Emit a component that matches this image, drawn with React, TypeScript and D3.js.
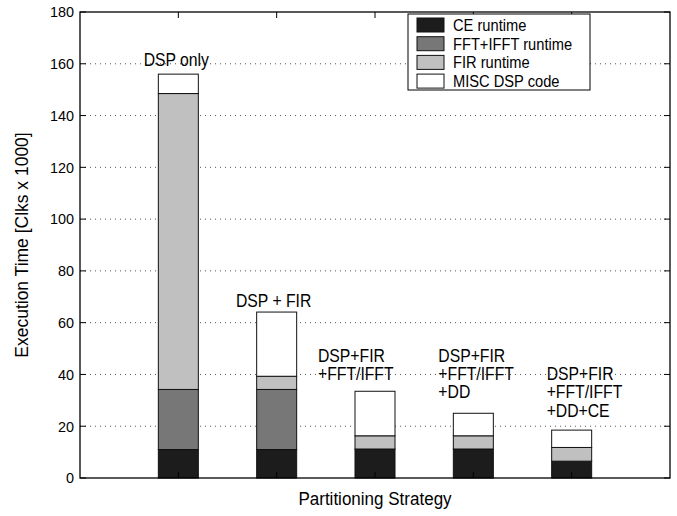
import React from 'react';
import * as d3 from 'd3';

// --- data ---
const strategies = ['DSP only', 'DSP + FIR', 'DSP+FIR\n+FFT/IFFT', 'DSP+FIR\n+FFT/IFFT\n+DD', 'DSP+FIR\n+FFT/IFFT\n+DD+CE'];
const ceRuntime = [11, 11, 11.2, 11.2, 6.5];
const fftRuntime = [23.2, 23.2, 0, 0, 0];
const firRuntime = [114.3, 5.1, 5.1, 5.1, 5.3];
const miscDsp = [7.5, 24.8, 17.2, 8.7, 6.7];
const seriesNames = ['CE runtime', 'FFT+IFFT runtime', 'FIR runtime', 'MISC DSP code'];
const yTicks = [0, 20, 40, 60, 80, 100, 120, 140, 160, 180];

// layout / style
const W = 677, H = 516;
const margin = { left: 80, right: 7, top: 12, bottom: 38 };
const colors = ['#1c1c1c', '#777777', '#c0c0c0', '#ffffff'];
// label placement: [dx from bar centre, first baseline, anchor]
const labelPos: [number, number, string][] = [
  [-2, 66, 'middle'],
  [-3, 306.5, 'middle'],
  [-57, 361.5, 'start'],
  [-35, 361.5, 'start'],
  [-25, 380, 'start'],
];
const font = 'Liberation Sans, Arial, Helvetica, sans-serif';
const SX = 0.9; // reference glyphs are a little narrower than Arial

// text that is slightly condensed horizontally
function Txt({ x, y, size, anchor = 'start', rotate = 0, sx = SX, children }: any) {
  return (
    <text transform={`translate(${x},${y}) rotate(${rotate}) scale(${sx},1)`} fontSize={size} textAnchor={anchor} fill="#000">
      {children}
    </text>
  );
}

export default function App() {
  const x = d3.scaleLinear().domain([0, strategies.length + 1]).range([margin.left, W - margin.right]);
  const y = d3.scaleLinear().domain([0, 180]).range([H - margin.bottom, margin.top]);
  const barW = 40;

  const rows = strategies.map((s, i) => ({ i, ce: ceRuntime[i], fft: fftRuntime[i], fir: firRuntime[i], misc: miscDsp[i] }));
  const stack = d3.stack<any>().keys(['ce', 'fft', 'fir', 'misc'])(rows);

  const x0 = margin.left, x1 = W - margin.right, y0 = H - margin.bottom, y1 = margin.top;

  return (
    <svg width={W} height={H} style={{ position: 'absolute', left: 0, top: 0, background: '#fff' }} fontFamily={font}>
      {/* grid */}
      {yTicks.slice(1, -1).map(t => (
        <line key={'g' + t} x1={x0} x2={x1} y1={y(t)} y2={y(t)} stroke="#555" strokeWidth={1} strokeDasharray="1,4" />
      ))}
      {/* bars */}
      {stack.map((layer, k) => (
        <g key={layer.key}>
          {layer.map((d, i) => d[1] - d[0] > 0 ? (
            <rect key={i} x={x(i + 1) - barW / 2} y={y(d[1])} width={barW} height={y(d[0]) - y(d[1])}
              fill={colors[k]} stroke="#111" strokeWidth={1} />
          ) : null)}
        </g>
      ))}
      {/* bar labels */}
      {strategies.map((s, i) => (
        <Txt key={'l' + i} x={x(i + 1) + labelPos[i][0]} y={labelPos[i][1]} size={17.5} anchor={labelPos[i][2]}>
          {s.split('\n').map((line, j) => (
            <tspan key={j} x={0} dy={j === 0 ? 0 : 18.5}>{line}</tspan>
          ))}
        </Txt>
      ))}
      {/* frame */}
      <rect x={x0} y={y1} width={x1 - x0} height={y0 - y1} fill="none" stroke="#000" strokeWidth={1.3} />
      {/* y ticks */}
      {yTicks.map(t => (
        <g key={'t' + t}>
          <line x1={x0} x2={x0 + 6} y1={y(t)} y2={y(t)} stroke="#000" />
          <line x1={x1} x2={x1 - 6} y1={y(t)} y2={y(t)} stroke="#000" />
          <Txt x={x0 - 6} y={y(t) + 5.3} size={15} anchor="end" sx={0.96}>{t}</Txt>
        </g>
      ))}
      {/* x ticks */}
      {strategies.map((s, i) => (
        <g key={'xt' + i}>
          <line x1={x(i + 1)} x2={x(i + 1)} y1={y0} y2={y0 - 6} stroke="#000" />
          <line x1={x(i + 1)} x2={x(i + 1)} y1={y1} y2={y1 + 6} stroke="#000" />
        </g>
      ))}
      {/* axis titles */}
      <Txt x={(x0 + x1) / 2} y={505} size={18.5} anchor="middle" sx={0.92}>Partitioning Strategy</Txt>
      <Txt x={28} y={(y0 + y1) / 2} size={19} anchor="middle" rotate={-90} sx={0.92}>Execution Time [Clks x 1000]</Txt>
      {/* legend */}
      <g>
        <rect x={408} y={14} width={182} height={76} fill="#fff" stroke="#000" strokeWidth={1} />
        {seriesNames.map((n, k) => (
          <g key={n} transform={`translate(0,${25 + k * 18.7})`}>
            <rect x={417} y={-7} width={27} height={14} fill={colors[k]} stroke="#111" />
            <Txt x={453} y={6} size={16.3}>{n}</Txt>
          </g>
        ))}
      </g>
    </svg>
  );
}
